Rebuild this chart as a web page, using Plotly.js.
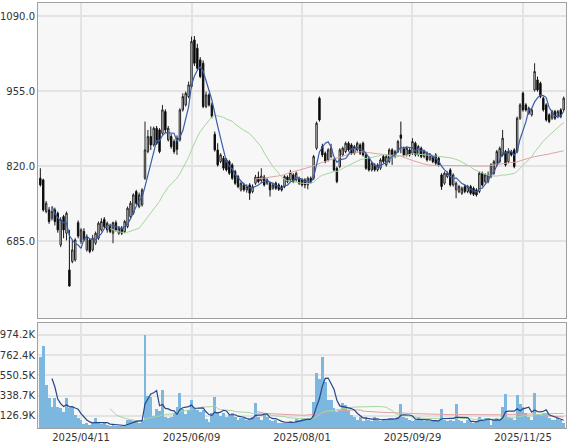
<!DOCTYPE html>
<html><head><meta charset="utf-8">
<script src="https://cdn.plot.ly/plotly-3.0.1.min.js"></script>
<style>html,body{margin:0;padding:0;background:#fff}#chart{width:567px;height:443px}</style>
</head><body><div id="chart"></div>
<script>
// ---- data ----
const startDate = '2025-03-24';
const holidays = ['2025-04-29','2025-05-05','2025-05-06','2025-07-21','2025-08-11','2025-09-15','2025-09-23','2025-10-13','2025-11-03','2025-11-24'];
const tickLabels = ['2025/04/11','2025/06/09','2025/08/01','2025/09/29','2025/11/25'];

const open = [798,795,738,741,726,741,735,678,729,699,633,648,651,718,684,702,669,687,669,681,
690,705,724,705,711,699,718,699,708,702,711,729,735,774,747,750,798,846,873,858,
888,885,879,918,867,873,864,870,867,921,930,945,963,1047,1032,1011,1005,927,948,930,
877,849,828,834,831,828,822,810,801,777,786,777,786,774,789,800,794,800,789,789,
780,789,786,783,783,800,795,804,795,798,795,795,786,798,798,852,942,855,843,831,
837,831,816,819,840,846,861,858,843,849,858,861,840,834,813,822,813,816,837,822,
828,849,837,846,876,852,840,849,843,861,840,852,837,843,832,837,840,834,804,789,
801,813,786,777,774,771,783,774,783,780,777,774,807,792,792,801,807,822,828,840,
846,828,846,849,846,906,951,930,915,912,957,975,969,942,930,912,906,918,909,921,921];
const high = [816,797,757,746,747,745,738,728,732,738,705,687,690,722,708,708,697,690,696,702,
720,726,728,720,716,720,722,712,712,723,747,757,771,777,772,780,900,885,891,891,
892,888,930,922,892,878,868,875,924,951,954,972,1053,1054,1040,1016,1010,954,951,934,
882,861,843,838,834,831,825,813,804,792,790,787,789,787,804,810,816,804,798,792,
789,792,789,786,804,803,813,807,810,801,798,798,801,801,840,900,945,860,846,852,
860,834,819,852,855,864,864,861,858,864,861,864,843,837,828,825,825,834,840,840,
852,852,849,867,900,855,855,852,870,864,858,855,849,846,843,840,843,837,807,810,
810,816,807,792,786,783,786,786,786,783,780,810,810,807,810,825,831,849,855,885,
849,852,849,852,909,933,954,933,927,924,1005,981,972,945,933,915,921,921,921,924,945];
const low = [783,738,735,716,722,713,700,674,690,686,603,645,648,690,680,684,666,663,666,678,
687,702,708,700,699,681,702,696,696,699,708,726,732,750,744,747,795,843,849,855,
858,843,876,880,864,851,842,840,864,918,927,942,960,1000,993,978,924,924,927,906,
846,819,825,812,810,804,795,786,780,774,774,772,759,771,786,789,790,783,786,765,
777,777,775,774,780,789,792,789,792,786,783,780,778,789,795,849,900,836,825,828,
834,810,789,816,837,843,846,840,840,846,840,837,813,810,810,810,810,813,825,819,
825,822,834,843,843,837,837,837,840,837,837,834,834,828,829,825,822,819,777,786,
798,783,783,762,771,768,771,771,768,766,765,771,783,789,789,798,804,819,825,837,
819,825,837,816,843,903,918,918,912,909,954,954,942,918,900,897,903,903,906,906,918];
const close = [786,741,753,720,738,720,705,723,705,735,604,669,687,694,705,687,693,666,690,699,
717,720,711,717,702,718,705,708,699,720,744,753,768,753,768,777,849,873,858,888,
861,846,921,885,888,855,846,850,921,945,951,966,1044,1005,996,981,927,948,930,909,
849,822,840,816,813,807,798,789,783,789,777,783,771,783,800,792,802,786,795,777,
786,780,778,777,801,792,808,792,807,789,786,786,798,792,837,897,903,840,828,849,
852,813,792,849,852,861,849,843,855,861,843,840,816,813,825,813,822,831,828,837,
849,840,846,864,870,840,852,840,864,840,855,837,846,831,840,828,825,822,783,807,
807,786,804,789,783,780,774,783,771,769,768,807,786,804,804,822,828,846,852,870,
822,846,840,819,906,930,921,921,924,921,990,957,945,921,903,900,918,906,918,909,942];
// volume in thousands of shares
const volumeK = [747,859,451,312,217,318,217,207,165,312,207,224,137,102,85,40,57,33,50,102,
50,43,57,33,23,33,26,23,16,33,85,85,78,68,57,85,974,336,322,127,
196,182,398,120,102,120,155,217,370,196,148,189,294,209,192,164,189,96,61,155,
329,155,127,161,120,137,155,120,85,102,102,85,92,120,259,120,85,137,120,85,
68,85,50,57,50,57,68,57,92,85,92,102,92,85,276,573,510,747,486,294,
294,207,172,189,259,242,189,137,120,85,120,68,120,85,68,120,85,74,92,85,
102,102,92,120,252,120,102,85,68,85,113,92,68,85,68,68,85,68,196,85,
68,85,68,252,85,68,50,85,68,50,68,113,85,102,102,33,85,102,85,217,
356,120,102,85,346,252,217,155,120,85,363,137,137,155,155,102,85,85,102,85,50];

const priceTicks = [685, 820, 955, 1090];
const volumeTicks = [126.9, 338.7, 550.5, 762.4, 974.2];
const volumeTickText = ['126.9K','338.7K','550.5K','762.4K','974.2K'];

// ---- trading-day calendar for the category axis ----
function tradingDays(start, n, hol) {
  const out = [];
  const d = new Date(start + 'T00:00:00Z');
  while (out.length < n) {
    const iso = d.toISOString().slice(0, 10);
    const wd = d.getUTCDay();
    if (wd !== 0 && wd !== 6 && hol.indexOf(iso) < 0) out.push(iso.replace(/-/g, '/'));
    d.setUTCDate(d.getUTCDate() + 1);
  }
  return out;
}
const dates = tradingDays(startDate, close.length, holidays);

function sma(arr, n) {
  return arr.map((v, i) => {
    if (i < n - 1) return null;
    let s = 0;
    for (let k = i - n + 1; k <= i; k++) s += arr[k];
    return s / n;
  });
}

const traces = [
  {type:'bar', x:dates, y:volumeK, xaxis:'x', yaxis:'y', marker:{color:'#7cb7df', line:{width:0}}, hoverinfo:'skip'},
  {type:'scatter', mode:'lines', x:dates, y:sma(volumeK,75), xaxis:'x', yaxis:'y', line:{color:'#dfa3a3', width:1}, hoverinfo:'skip'},
  {type:'scatter', mode:'lines', x:dates, y:sma(volumeK,25), xaxis:'x', yaxis:'y', line:{color:'#a6d69f', width:1}, hoverinfo:'skip'},
  {type:'scatter', mode:'lines', x:dates, y:sma(volumeK,5), xaxis:'x', yaxis:'y', line:{color:'#27458a', width:1.2}, hoverinfo:'skip'},
  {type:'candlestick', x:dates, open:open, high:high, low:low, close:close, xaxis:'x2', yaxis:'y2',
   increasing:{line:{color:'#222', width:1}, fillcolor:'#ffffff'},
   decreasing:{line:{color:'#111', width:1}, fillcolor:'#000000'},
   whiskerwidth:0, hoverinfo:'skip'},
  {type:'scatter', mode:'lines', x:dates, y:sma(close,75), xaxis:'x2', yaxis:'y2', line:{color:'#dfa3a3', width:1}, hoverinfo:'skip'},
  {type:'scatter', mode:'lines', x:dates, y:sma(close,25), xaxis:'x2', yaxis:'y2', line:{color:'#a6d69f', width:1}, hoverinfo:'skip'},
  {type:'scatter', mode:'lines', x:dates, y:sma(close,5), xaxis:'x2', yaxis:'y2', line:{color:'#3a5ca8', width:1.2}, hoverinfo:'skip'}
];

const axisCommon = {showgrid:true, gridcolor:'#e3e3e3', gridwidth:2, showline:true, mirror:true,
  linecolor:'#a0a0a0', linewidth:1, ticks:'', zeroline:false, fixedrange:true};

const layout = {
  width:567, height:443,
  margin:{l:38, r:1, t:3, b:15, pad:0},
  paper_bgcolor:'#ffffff', plot_bgcolor:'#f7f7f7',
  showlegend:false, bargap:0,
  font:{family:'DejaVu Sans, Verdana, sans-serif', size:10, color:'#333'},
  xaxis:Object.assign({}, axisCommon, {type:'category', anchor:'y', domain:[0,1], range:[-0.8,180.8],
    tickmode:'array', tickvals:tickLabels, ticktext:tickLabels, rangeslider:{visible:false}}),
  xaxis2:Object.assign({}, axisCommon, {type:'category', anchor:'y2', domain:[0,1], matches:'x', range:[-0.8,180.8],
    tickmode:'array', tickvals:tickLabels, showticklabels:false, rangeslider:{visible:false}}),
  yaxis:Object.assign({}, axisCommon, {domain:[0,0.2471], range:[0,1098], tickmode:'array',
    tickvals:volumeTicks, ticktext:volumeTickText}),
  yaxis2:Object.assign({}, axisCommon, {domain:[0.2588,1], range:[546.4,1113.4], tickmode:'array',
    tickvals:priceTicks, tickformat:'.1f'})
};

Plotly.newPlot('chart', traces, layout, {displayModeBar:false, staticPlot:true});
</script></body></html>
